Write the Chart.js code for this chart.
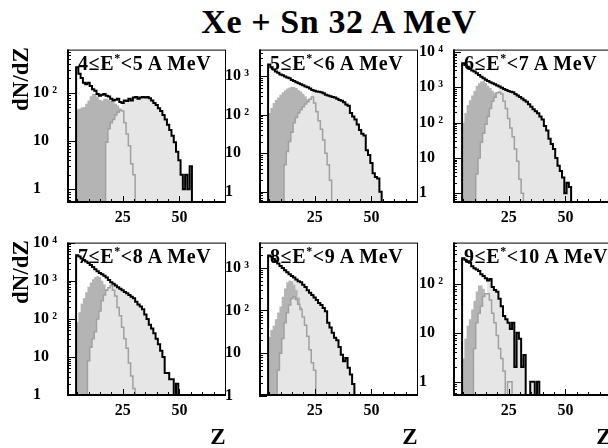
<!DOCTYPE html>
<html>
<head>
<meta charset="utf-8">
<script src="https://cdn.jsdelivr.net/npm/chart.js@4.4.1/dist/chart.umd.min.js"></script>
<style>
  html, body { margin: 0; padding: 0; background: #fff; }
  body { width: 608px; height: 448px; position: relative; overflow: hidden;
         font-family: 'Liberation Serif', 'Times New Roman', serif; font-weight: bold; color: #000; }
  canvas { position: absolute; }
  .txt { position: absolute; white-space: nowrap; line-height: 1; z-index: 5; }
  #title { font-size: 34px; left: 339px; top: 5px; transform: translateX(-50%); letter-spacing: 0.6px; }
  .ylab { font-size: 23px; transform: translate(-50%, -50%) rotate(-90deg); }
  .xlab { font-size: 23px; transform: translate(-50%, -50%); }
  .plab { font-size: 20px; letter-spacing: 0.6px; }
  .plab .sup { font-size: 12px; vertical-align: 8px; }
</style>
</head>
<body>
<div class="txt" id="title">Xe + Sn 32 A MeV</div>
<script>
// E* bins (A MeV), one panel each
const eLow = [4, 5, 6, 7, 8, 9];
const xLabels = [25, 50];
const yMin = [0.52, 0.51, 0.53, 0.95, 1.0, 0.51];
const yMax = [794, 4900, 11700, 10000, 3870, 700];

// first Z of each histogram
const totalStart = [5, 5, 5, 5, 5, 5];
const darkStart = [5, 5, 5, 5, 5, 5];
const grayStart = [18, 12, 11, 10, 9, 10];
const lightStart = [25, 24, 21, 20, 16, 16];

// all fragments (black line)
const total1 = [340, 250, 205, 163, 151, 163, 140, 120, 111, 95, 88, 92, 95, 88, 84, 76, 70, 72, 76, 65, 62, 70, 68, 76, 70, 80, 82, 76, 80, 82, 80, 82, 78, 70, 62, 56, 48, 42, 35, 28, 22, 17, 13, 9.5, 6, 4, 2, 1, 2, 1, 3];
const total2 = [2000, 1700, 1500, 1330, 1220, 1100, 1050, 980, 930, 880, 800, 750, 700, 660, 620, 580, 540, 515, 480, 440, 420, 400, 395, 385, 360, 330, 316, 300, 290, 280, 260, 240, 230, 210, 185, 170, 110, 90, 75, 56, 40, 32, 29, 12, 9, 5.6, 3, 2.4, 2.2, 1];
const total3 = [4800, 4300, 3800, 3400, 3000, 2800, 2500, 2250, 2000, 1800, 1650, 1500, 1400, 1300, 1220, 1120, 1050, 980, 900, 840, 790, 750, 720, 650, 590, 530, 480, 430, 390, 330, 280, 240, 210, 185, 150, 123, 80, 60, 35, 25, 18, 10, 6, 4.3, 2.8, 1, 2, 1.5];
const total4 = [4650, 4300, 3850, 3500, 3200, 2900, 2600, 2300, 2000, 1780, 1600, 1470, 1350, 1215, 1050, 910, 830, 750, 680, 620, 560, 510, 470, 420, 380, 350, 280, 237, 210, 178, 130, 100, 70, 56, 42, 30, 21.6, 14.7, 10, 3.8, 3.8, 2.6, 2.6, 0, 2];
const total5 = [1940, 1820, 1600, 1410, 1250, 1100, 980, 870, 780, 700, 640, 590, 530, 480, 456, 400, 353, 296, 260, 229, 200, 176, 150, 135, 114, 96, 52, 40, 30, 23, 20, 14, 9.2, 6.5, 7.7, 4.6, 3.2, 1.9];
const total6 = [336, 313, 290, 270, 230, 210, 198, 183, 158, 146, 130, 117, 126, 86, 75, 69, 50, 35, 22, 19, 16, 12, 16, 2, 10, 7.6, 2, 3.5, 0, 0, 1, 1, 0, 1];

// dark grey filled component
const dark1 = [46, 47, 50, 51, 60, 70, 85, 95, 95, 82, 72, 70, 76, 76, 72, 68, 65, 60, 55, 48, 40, 20];
const dark2 = [110, 150, 200, 240, 280, 330, 380, 430, 480, 510, 530, 520, 490, 440, 400, 350, 300, 250, 200, 150];
const dark3 = [100, 187, 315, 430, 590, 800, 1100, 1300, 1450, 1500, 1300, 1100, 950, 800, 700, 600, 450];
const dark4 = [83, 150, 250, 350, 500, 700, 900, 1100, 1260, 1330, 1250, 1000, 800, 600, 400];
const dark5 = [24, 35, 44, 62, 90, 124, 210, 325, 456, 500, 480, 400, 300, 200, 120];
const dark6 = [3, 7.6, 14, 19, 30, 45, 70, 93, 93, 80, 60, 45];

// grey outlined component
const gray1 = [9.5, 18, 24, 28, 35, 40, 44, 42, 24, 14, 8, 3.4, 2];
const gray2 = [5, 11, 20, 35, 62, 85, 110, 135, 162, 190, 216, 250, 288, 200, 120, 70, 42, 22, 10, 5, 2];
const gray3 = [3.5, 10, 28, 50, 90, 150, 250, 400, 520, 700, 730, 650, 400, 250, 130, 70, 40, 18, 8, 2.5, 1];
const gray4 = [8, 18, 30, 46, 100, 160, 300, 420, 560, 650, 750, 560, 400, 200, 120, 60, 30, 17, 7, 3.2, 1.5];
const gray5 = [4, 10, 22, 52, 88, 135, 190, 210, 180, 140, 105, 70, 45, 25, 12, 6, 4];
const gray6 = [4.8, 16, 25, 35, 55, 63, 63, 47, 25, 16, 8.8, 4.8, 3, 1.65, 0, 1, 1];

const totals = [total1, total2, total3, total4, total5, total6];
const darks = [dark1, dark2, dark3, dark4, dark5, dark6];
const grays = [gray1, gray2, gray3, gray4, gray5, gray6];

// layout
const FRAME_LEFT = [67, 259, 453];
const FRAME_TOP = [44, 237];
const FRAME_W = 159, FRAME_H = 159;
const AXIS_W = 34, AXIS_H = 26, PAD_T = 4, PAD_R = 4;
const LIGHT = '#e6e6e6', DARK = '#b4b4b4', GRAY = '#a0a0a0';
const FLOOR = 1e-3;
const FONT = "'Liberation Serif', 'Times New Roman', serif";

// histogram outline as step points (bin edges at Z +- 0.5)
function hist(start, vals) {
    const pts = [{x: start - 0.5, y: FLOOR}];
    vals.forEach((v, i) => pts.push({x: start - 0.5 + i, y: v > 0 ? v : FLOOR}));
    const end = start - 0.5 + vals.length;
    const last = vals[vals.length - 1];
    pts.push({x: end, y: last > 0 ? last : FLOOR});
    pts.push({x: end, y: FLOOR});
    return pts;
}

function decadeLabel(v) {
    const e = Math.round(Math.log10(v));
    if (e === 0) return '1';
    if (e === 1) return '10';
    return '10\u2009' + '⁰¹²³⁴⁵⁶⁷⁸⁹'[e];
}

// frame box and inward ticks, ROOT style
const frame = {
    id: 'frame',
    afterDraw(chart) {
        const {ctx, chartArea: a, scales: {x, y}} = chart;
        const line = (x1, y1, x2, y2) => { ctx.beginPath(); ctx.moveTo(x1, y1); ctx.lineTo(x2, y2); ctx.stroke(); };
        ctx.save();
        ctx.strokeStyle = '#000';
        ctx.lineWidth = 1;
        ctx.strokeRect(a.left + 0.5, a.top + 0.5, a.right - a.left - 1, a.bottom - a.top - 1);
        ctx.lineWidth = 2;
        line(a.left + 1, a.top, a.left + 1, a.bottom);
        line(a.left, a.bottom - 1, a.right, a.bottom - 1);
        ctx.lineWidth = 1;
        for (let v = 5; v <= 70; v += 5) {
            const px = Math.round(x.getPixelForValue(v)) + 0.5;
            line(px, a.bottom, px, a.bottom - (v % 25 ? 4 : 7));
        }
        const lo = Math.floor(Math.log10(y.min)), hi = Math.ceil(Math.log10(y.max));
        for (let e = lo; e <= hi; e++) {
            for (let k = 1; k <= 9; k++) {
                const v = k * Math.pow(10, e);
                if (v < y.min || v > y.max) continue;
                const py = Math.round(y.getPixelForValue(v)) + 0.5;
                line(a.left, py, a.left + (k === 1 ? 8 : 4), py);
            }
        }
        ctx.restore();
    }
};

function addText(cls, text, left, top) {
    const d = document.createElement('div');
    d.className = 'txt ' + cls;
    d.textContent = text;
    d.style.left = left + 'px';
    d.style.top = top + 'px';
    document.body.appendChild(d);
    return d;
}

eLow.forEach((lo, i) => {
    const col = i % 3, row = Math.floor(i / 3);
    const cv = document.createElement('canvas');
    cv.width = AXIS_W + FRAME_W + PAD_R;
    cv.height = PAD_T + FRAME_H + AXIS_H;
    cv.style.left = (FRAME_LEFT[col] - AXIS_W) + 'px';
    cv.style.top = (FRAME_TOP[row] - PAD_T) + 'px';
    document.body.appendChild(cv);

    const tot = totals[i];
    const lightVals = tot.slice(lightStart[i] - totalStart[i]);

    new Chart(cv.getContext('2d'), {
        type: 'line',
        data: {
            datasets: [
                { data: hist(totalStart[i], tot), borderColor: '#000', borderWidth: 2, fill: false, order: 0 },
                { data: hist(grayStart[i], grays[i]), borderColor: GRAY, borderWidth: 1.5, backgroundColor: LIGHT, fill: 'start', order: 1 },
                { data: hist(darkStart[i], darks[i]), borderColor: 'rgba(0,0,0,0)', borderWidth: 1, backgroundColor: DARK, fill: 'start', order: 2 },
                { data: hist(lightStart[i], lightVals), borderColor: 'rgba(0,0,0,0)', borderWidth: 1, backgroundColor: LIGHT, fill: 'start', order: 3 }
            ]
        },
        options: {
            responsive: false,
            animation: false,
            events: [],
            parsing: false,
            elements: { line: { stepped: true, tension: 0 }, point: { radius: 0 } },
            layout: { padding: { top: PAD_T, right: PAD_R, left: 0, bottom: 0 } },
            plugins: { legend: { display: false }, tooltip: { enabled: false } },
            scales: {
                x: {
                    type: 'linear', min: 0.5, max: 70.5,
                    grid: { display: false, drawTicks: false }, border: { display: false },
                    afterBuildTicks: s => { s.ticks = xLabels.map(v => ({ value: v })); },
                    afterFit: s => { s.height = AXIS_H; },
                    ticks: { color: '#000', padding: 5, maxRotation: 0, autoSkip: false,
                             font: { family: FONT, size: 16, weight: 'bold' } }
                },
                y: {
                    type: 'logarithmic', min: yMin[i], max: yMax[i],
                    grid: { display: false, drawTicks: false }, border: { display: false },
                    afterBuildTicks: s => {
                        const t = [];
                        for (let v = 1; v <= yMax[i] * 1.0001; v *= 10) t.push({ value: v });
                        s.ticks = t;
                    },
                    afterFit: s => { s.width = AXIS_W; },
                    ticks: { color: '#000', padding: 0, crossAlign: 'far', autoSkip: false,
                             callback: v => decadeLabel(v),
                             font: { family: FONT, size: 16, weight: 'bold' } }
                }
            }
        },
        plugins: [frame]
    });

    // panel label
    const lab = document.createElement('div');
    lab.className = 'txt plab';
    lab.appendChild(document.createTextNode(lo + '≤E'));
    const sup = document.createElement('span');
    sup.className = 'sup';
    sup.textContent = '*';
    lab.appendChild(sup);
    lab.appendChild(document.createTextNode('<' + (lo + 1) + ' A MeV'));
    lab.style.left = (FRAME_LEFT[col] + 11) + 'px';
    lab.style.top = (FRAME_TOP[row] + 8) + 'px';
    document.body.appendChild(lab);

    if (col === 0) addText('ylab', 'dN/dZ', 20, FRAME_TOP[row] + 35);
    if (row === 1) addText('xlab', 'Z', FRAME_LEFT[col] + 151, 436);
});
</script>
</body>
</html>
